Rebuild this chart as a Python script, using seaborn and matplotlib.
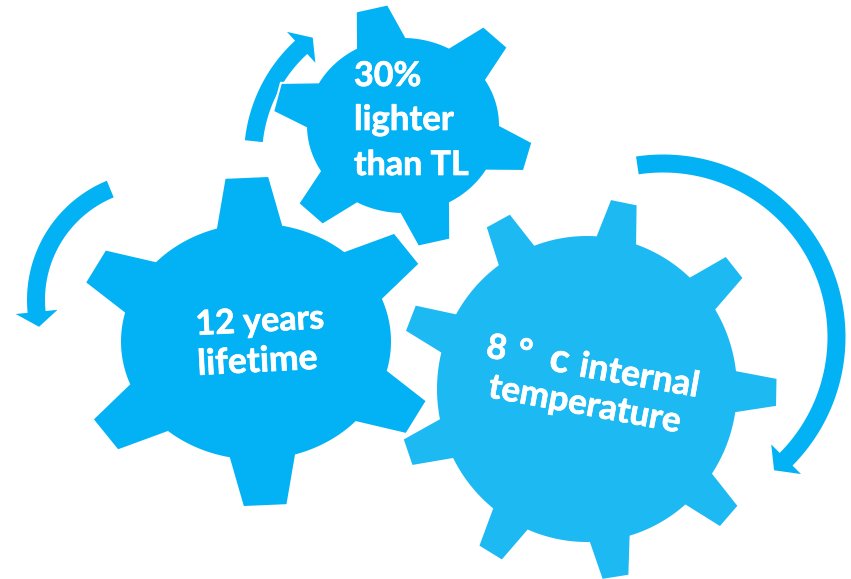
import numpy as np
import matplotlib
matplotlib.use("Agg")
import matplotlib.pyplot as plt
import matplotlib.patheffects as pe
import seaborn as sns

# Gears (pixels, y down)
gear_names = ["lifetime", "lighter", "temperature"]
gear_cx = [256, 403, 587]
gear_cy = [341.5, 125.5, 389]
gear_rx = [135, 96, 150]
gear_ry = [118, 87.5, 153]
gear_tip_half = [6.5, 6.8, 4.0]
gear_base_half = [14, 15, 7.7]
gear_teeth = [
    [-28.4, 35.2, 92.8, 151.8, 215.3, 272.8],
    [-15.3, 46.4, 103.6, 166.2, 226.4, 283.6],
    [-41.3, -1, 39, 78.6, 118.3, 158.5, 199.1, 239, 278.8],
]
gear_tip = [
    [1.353, 1.37, 1.397, 1.353, 1.37, 1.397],
    [1.35, 1.397, 1.38, 1.35, 1.397, 1.38],
    [1.26, 1.265, 1.265, 1.245, 1.25, 1.265, 1.265, 1.25, 1.245],
]
gear_colors = ["#03B2F4", "#03B2F4", "#1DB9F3"]

# Curved arrows
arrow_cx = [156, 402, 663]
arrow_cy = [300, 157, 337]
arrow_r = [120, 149, 173.5]
arrow_start = [112.4, 173.9, 98.5]
arrow_end = [185.7, 132.6, -44.8]
arrow_tip = [192.9, 126.8, -50.2]
arrow_width = 18
arrow_head = 21

sns.set_theme(style="white")
plt.rcParams["font.family"] = ["Lato", "DejaVu Sans"]


def gear_outline(i):
    rx, ry = gear_rx[i], gear_ry[i]
    teeth = gear_teeth[i]
    angs = []
    rads = []
    for k, t in enumerate(teeth):
        next_t = teeth[(k + 1) % len(teeth)]
        if next_t < t:
            next_t += 360
        tip = gear_tip[i][k]
        angs += [t - gear_base_half[i], t - gear_tip_half[i], t + gear_tip_half[i]]
        rads += [1, tip, tip]
        arc = np.linspace(t + gear_base_half[i], next_t - gear_base_half[i], 30)
        angs += list(arc[:-1])
        rads += [1] * (len(arc) - 1)
    a = np.radians(angs)
    r = np.array(rads)
    return gear_cx[i] + rx * r * np.cos(a), gear_cy[i] - ry * r * np.sin(a)


def arrow_outline(i):
    c = arrow_r[i]
    arc = np.linspace(arrow_start[i], arrow_end[i], 80)
    angs = list(arc) + [arrow_end[i], arrow_tip[i], arrow_end[i]] + list(arc[::-1])
    rads = ([c + arrow_width / 2] * 80 + [c + arrow_head, c, c - arrow_head]
            + [c - arrow_width / 2] * 80)
    a = np.radians(angs)
    r = np.array(rads)
    return arrow_cx[i] + r * np.cos(a), arrow_cy[i] - r * np.sin(a)


fig = plt.figure(figsize=(8.51, 5.79), dpi=100)
ax = fig.add_axes([0, 0, 1, 1])
ax.set_xlim(0, 851)
ax.set_ylim(579, 0)
ax.axis("off")

for i in range(3):
    x, y = arrow_outline(i)
    ax.fill(x, y, color="#03B2F4", lw=0, zorder=1)

# the big gear sits under the other two
for i in [2, 1, 0]:
    x, y = gear_outline(i)
    poly = ax.fill(x, y, color=gear_colors[i], lw=0, zorder=2 + (2 - i))[0]
    poly.set_path_effects([pe.withStroke(linewidth=3, foreground="white")])

bold = [pe.withStroke(linewidth=0.5, foreground="white")]
txt = dict(color="white", fontweight="bold", zorder=6, rotation_mode="anchor",
           ha="left", va="baseline", path_effects=bold)

# top gear
ax.text(354, 86, "30%", fontsize=24.5, **txt)
ax.text(354, 130, "lighter", fontsize=25, **txt)
ax.text(354, 175, "than TL", fontsize=24.5, **txt)

# left gear
ax.text(196, 335, "12 years", fontsize=24.5, rotation=3, **txt)
ax.text(198, 375, "lifetime", fontsize=25.5, rotation=3, **txt)

# right gear
ax.text(485, 357, "8", fontsize=25, rotation=-10, **txt)
ax.text(516, 362, "°", fontsize=25, rotation=-10, **txt)
ax.text(548, 370, "c", fontsize=29, rotation=-10, **txt)
ax.text(578, 376, "internal", fontsize=25.5, rotation=-10, **txt)
ax.text(487, 397, "temperature", fontsize=25.2, rotation=-10.5, **txt)

fig.savefig("out.png", dpi=100)
